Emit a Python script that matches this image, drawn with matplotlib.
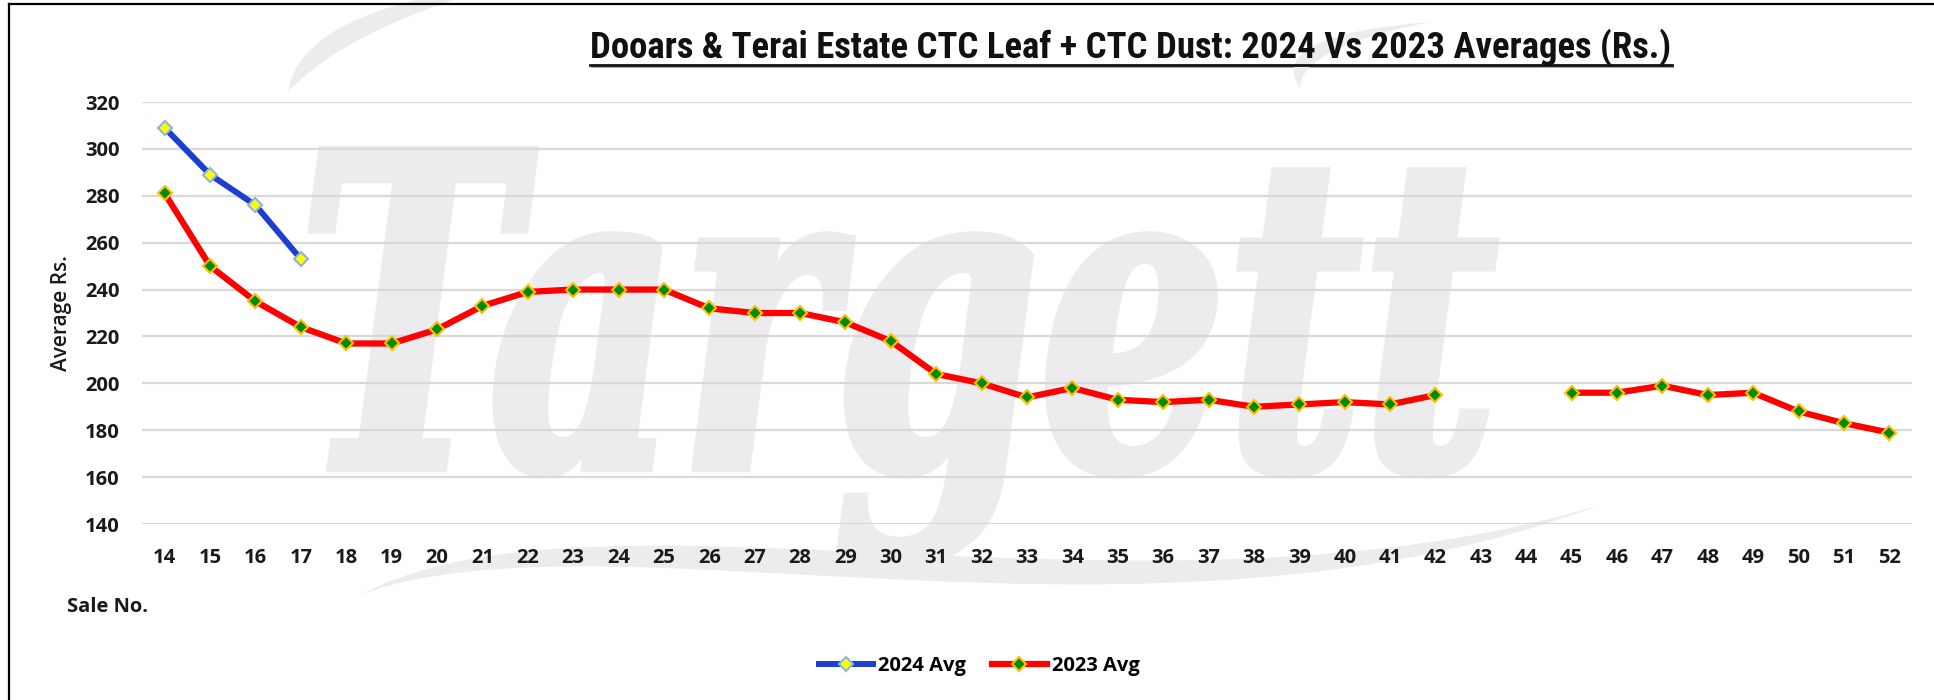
import numpy as np
import matplotlib
matplotlib.use("Agg")
import matplotlib.pyplot as plt
from matplotlib import font_manager
from matplotlib.textpath import TextPath
from matplotlib.patches import PathPatch
from matplotlib.path import Path
from matplotlib.font_manager import FontProperties
from matplotlib.transforms import Affine2D
from matplotlib.lines import Line2D

# sale numbers 14..52 and the two seasons' averages (Rs.)
sale_no = list(range(14, 53))
sale_2024 = [14, 15, 16, 17]
avg_2024 = [309, 289, 276, 253]
avg_2023 = [281, 250, 235, 224, 217, 217, 223, 233, 239, 240, 240, 240, 232,
            230, 230, 226, 218, 204, 200, 194, 198, 193, 192, 193, 190, 191,
            192, 191, 195, np.nan, np.nan, 196, 196, 199, 195, 196, 188, 183, 179]
y_ticks = list(range(140, 321, 20))

title = "Dooars & Terai Estate CTC Leaf + CTC Dust: 2024 Vs 2023 Averages (Rs.)"
W, H = 1934, 700
FONT = "Open Sans"


def first_font(names):
    for n in names:
        try:
            font_manager.findfont(FontProperties(family=n), fallback_to_default=False)
            return n
        except Exception:
            pass
    return FONT


TITLE_FONT = first_font(["Liberation Sans Narrow", "Roboto Condensed", "Roboto"])

fig = plt.figure(figsize=(W / 100, H / 100), dpi=100)
fig.patch.set_facecolor("white")
ax = fig.add_axes([142 / W, 1 - 524 / H, (1912 - 142) / W, (524 - 102) / H])
ax.patch.set_visible(False)

# pixel coords (top-left origin) -> figure
px = Affine2D().scale(1 / W, -1 / H).translate(0, 1) + fig.transFigure
WM = "#ECECEF"

# faint "Targett" watermark behind the grid
fp = FontProperties(family="DejaVu Serif", weight="bold", style="italic")
tp = TextPath((0, 0), "Targett", size=1, prop=fp)
ext = tp.get_extents()
bx0, bx1, by0, by1 = 312, 1495, 150, 565
wm = Affine2D().translate(-ext.x0, -ext.y1).scale((bx1 - bx0) / ext.width,
                                                  -(by1 - by0) / ext.height).translate(bx0, by0)
ax.add_patch(PathPatch(tp, transform=wm + px, facecolor=WM, edgecolor=WM, lw=6,
                       zorder=0.2, clip_on=False))

# swooshes of the logo
C4 = Path.CURVE4
wave = Path([(362, 594), (600, 470), (1150, 640), (1600, 505),
             (1150, 675), (610, 505), (362, 594), (362, 594)],
            [Path.MOVETO, C4, C4, C4, C4, C4, C4, Path.CLOSEPOLY])
arc_l = Path([(288, 92), (300, 10), (500, -15), (345, 30), (288, 92), (288, 92)],
             [Path.MOVETO, Path.CURVE3, Path.CURVE3, Path.CURVE3, Path.CURVE3, Path.CLOSEPOLY])
arc_r = Path([(1300, 88), (1265, 35), (1430, 22), (1300, 48), (1300, 88), (1300, 88)],
             [Path.MOVETO, Path.CURVE3, Path.CURVE3, Path.CURVE3, Path.CURVE3, Path.CLOSEPOLY])
for p in (wave, arc_l, arc_r):
    ax.add_patch(PathPatch(p, transform=px, facecolor=WM, edgecolor="none",
                           zorder=0.2, clip_on=False))

ax.plot(sale_2024, avg_2024, color="#1C3FD0", lw=4.3, marker="D", ms=7,
        mfc="#FFFF00", mec="#8DB3E2", mew=1.5, label="2024 Avg", zorder=3)
ax.plot(sale_no, avg_2023, color="#FF0000", lw=4.5, marker="D", ms=7,
        mfc="#008A00", mec="#FFC000", mew=1.5, label="2023 Avg", zorder=2)

ax.set_xlim(13.5, 52.5)
ax.set_ylim(140, 320)
ax.set_xticks(sale_no)
ax.set_yticks(y_ticks)
ax.set_axisbelow(True)
ax.grid(axis="y", color="#D9D9D9", lw=1.6)
for s in ax.spines.values():
    s.set_visible(False)
ax.tick_params(length=0, labelsize=14.5, labelcolor="#1a1a1a")
ax.tick_params(axis="y", pad=16)
ax.tick_params(axis="x", pad=17)
for lab in ax.get_xticklabels() + ax.get_yticklabels():
    lab.set_fontfamily(FONT)
    lab.set_fontweight("bold")

fig.text(61 / W, 1 - 313 / H, "Average Rs.", rotation=90, ha="center", va="center",
         fontsize=15, family=FONT, fontweight="semibold", color="#1a1a1a")
fig.text(67 / W, 1 - 607 / H, "Sale No.", ha="left", va="center",
         fontsize=14.5, family=FONT, fontweight="bold", color="#1a1a1a")

leg = fig.legend(loc="center", bbox_to_anchor=(979 / W, 1 - 666 / H), ncol=2, frameon=False,
                 prop=FontProperties(family=FONT, weight="bold", size=14.5),
                 handlelength=2.7, handletextpad=0.25, columnspacing=1.3)

# title, fitted to the reference width and underlined
t = fig.text(1131 / W, 1 - 58 / H, title, ha="center", va="baseline", fontsize=24,
             family=[TITLE_FONT, FONT], fontweight="bold", color="#111111")
fig.canvas.draw()
bb = t.get_window_extent()
t.set_fontsize(24 * 1087 / bb.width)
fig.canvas.draw()
bb = t.get_window_extent()
uy = 1 - 65 / H
fig.add_artist(Line2D([bb.x0 / W, bb.x1 / W], [uy, uy], color="#111111", lw=2))
fig.add_artist(Line2D([bb.x0 / W + 0.001, bb.x1 / W + 0.001], [uy - 0.003, uy - 0.003],
                      color="#AAAAAA", lw=1.5, zorder=0))

# outer frame
fig.add_artist(Line2D([9 / W, 9 / W], [0, 1 - 4 / H], color="black", lw=1.6))
fig.add_artist(Line2D([9 / W, 1], [1 - 4 / H, 1 - 4 / H], color="black", lw=1.6))

fig.savefig("out.png", dpi=100)
